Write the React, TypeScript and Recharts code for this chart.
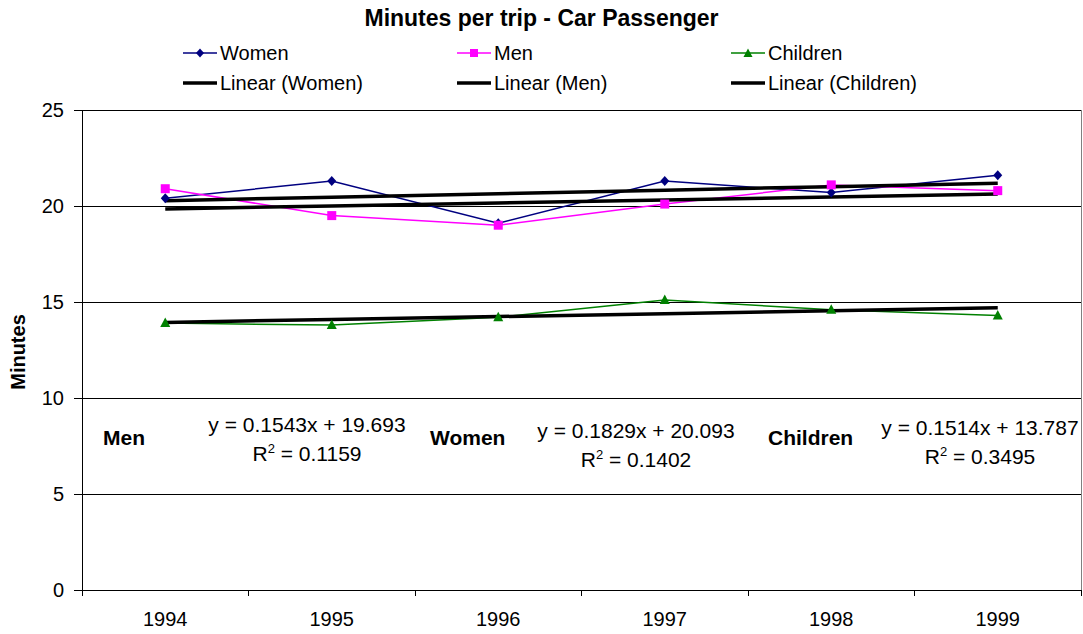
import type { CSSProperties } from 'react'
import { CartesianGrid, Line, LineChart, XAxis, YAxis } from 'recharts'

const YEARS = ['1994', '1995', '1996', '1997', '1998', '1999']
const WOMEN = [20.4, 21.3, 19.1, 21.3, 20.7, 21.6]
const MEN = [20.9, 19.5, 19.0, 20.1, 21.1, 20.8]
const CHILDREN = [13.9, 13.8, 14.2, 15.1, 14.6, 14.3]

// linear trend values at each year (x = 1..6)
const WOMEN_TREND = [20.276, 20.459, 20.642, 20.825, 21.008, 21.191]
const MEN_TREND = [19.847, 20.002, 20.156, 20.31, 20.465, 20.619]
const CHILDREN_TREND = [13.938, 14.09, 14.241, 14.393, 14.544, 14.695]

const Y_TICKS = [0, 5, 10, 15, 20, 25]

const TREND_NAMES = ['Men', 'Women', 'Children']
const TREND_EQUATIONS = ['y = 0.1543x + 19.693', 'y = 0.1829x + 20.093', 'y = 0.1514x + 13.787']
const TREND_R2 = ['0.1159', '0.1402', '0.3495']

const FONT = 'Arial, "Liberation Sans", sans-serif'
const NAVY = '#000080'
const MAGENTA = '#ff00ff'
const GREEN = '#008000'
const BORDER = '#808080'

const rows = YEARS.map((year, i) => ({
  year,
  women: WOMEN[i],
  men: MEN[i],
  children: CHILDREN[i],
  womenTrend: WOMEN_TREND[i],
  menTrend: MEN_TREND[i],
  childrenTrend: CHILDREN_TREND[i],
}))

// annotation placement: bold name, equation block centre
const ANNOTATION_POS = [
  { nameLeft: 103, nameTop: 426, eqX: 307, eqTop: 413 },
  { nameLeft: 430, nameTop: 426, eqX: 636, eqTop: 419 },
  { nameLeft: 768, nameTop: 426, eqX: 980, eqTop: 416 },
]

type DotProps = { cx?: number; cy?: number; index?: number }

function diamondDot({ cx = 0, cy = 0, index }: DotProps) {
  return (
    <polygon
      key={`d-${index}`}
      points={`${cx},${cy - 5} ${cx + 4.5},${cy} ${cx},${cy + 5} ${cx - 4.5},${cy}`}
      fill={NAVY}
    />
  )
}

function squareDot({ cx = 0, cy = 0, index }: DotProps) {
  return <rect key={`s-${index}`} x={cx - 4.5} y={cy - 4.5} width={9} height={9} fill={MAGENTA} />
}

function triangleDot({ cx = 0, cy = 0, index }: DotProps) {
  return (
    <polygon
      key={`t-${index}`}
      points={`${cx},${cy - 5.5} ${cx + 5},${cy + 4} ${cx - 5},${cy + 4}`}
      fill={GREEN}
    />
  )
}

// year labels sit under the bands, tick marks on the band edges
function YearTick(props: any) {
  const { x, y, payload, index, visibleTicksCount } = props
  const half = payload?.offset || 83.25
  const last = index === visibleTicksCount - 1
  return (
    <g shapeRendering="crispEdges">
      <line x1={x - half} x2={x - half} y1={y} y2={y + 6} stroke="#000" />
      {last && <line x1={x + half} x2={x + half} y1={y} y2={y + 6} stroke="#000" />}
      <text x={x} y={y + 36} textAnchor="middle" fontSize={20} fill="#000" fontFamily={FONT}>
        {payload.value}
      </text>
    </g>
  )
}

function LegendMark({ color, marker, thick }: { color: string; marker?: string; thick?: boolean }) {
  return (
    <svg width={34} height={12} style={{ display: 'block' }}>
      <line x1={0} x2={34} y1={6} y2={6} stroke={color} strokeWidth={thick ? 3.5 : 1.5} />
      {marker === 'diamond' && <polygon points="17,1.5 21,6 17,10.5 13,6" fill={color} />}
      {marker === 'square' && <rect x={13} y={2} width={8} height={8} fill={color} />}
      {marker === 'triangle' && <polygon points="17,1.5 21.5,10 12.5,10" fill={color} />}
    </svg>
  )
}

const LEGEND = [
  { label: 'Women', color: NAVY, marker: 'diamond', left: 183, row: 0 },
  { label: 'Men', color: MAGENTA, marker: 'square', left: 457, row: 0 },
  { label: 'Children', color: GREEN, marker: 'triangle', left: 731, row: 0 },
  { label: 'Linear (Women)', color: '#000', left: 183, row: 1, thick: true },
  { label: 'Linear (Men)', color: '#000', left: 457, row: 1, thick: true },
  { label: 'Linear (Children)', color: '#000', left: 731, row: 1, thick: true },
]

const abs = (style: CSSProperties): CSSProperties => ({ position: 'absolute', ...style })

export default function App() {
  return (
    <div
      style={{
        position: 'absolute',
        left: 0,
        top: 0,
        width: 1083,
        height: 634,
        background: '#fff',
        fontFamily: FONT,
        color: '#000',
      }}
    >
      <LineChart
        width={1083}
        height={634}
        data={rows}
        margin={{ top: 110, right: 0, bottom: 0, left: 0 }}
      >
        <CartesianGrid stroke="#000" vertical={false} shapeRendering="crispEdges" />
        <XAxis
          dataKey="year"
          scale="band"
          tick={<YearTick />}
          tickLine={false}
          tickSize={0}
          tickMargin={0}
          height={44}
          axisLine={{ stroke: '#000', shapeRendering: 'crispEdges' }}
          interval={0}
        />
        <XAxis
          xAxisId="top"
          orientation="top"
          dataKey="year"
          scale="band"
          height={0}
          tick={false}
          tickLine={false}
          axisLine={{ stroke: BORDER, shapeRendering: 'crispEdges' }}
        />
        <YAxis
          domain={[0, 25]}
          ticks={Y_TICKS}
          width={82}
          tickSize={8}
          tickMargin={10}
          axisLine={{ stroke: '#000', shapeRendering: 'crispEdges' }}
          tickLine={{ stroke: '#000', shapeRendering: 'crispEdges' }}
          tick={{ fontSize: 20, fill: '#000', fontFamily: FONT }}
        />
        <YAxis
          yAxisId="right"
          orientation="right"
          domain={[0, 25]}
          width={2}
          tick={false}
          tickLine={false}
          axisLine={{ stroke: BORDER, shapeRendering: 'crispEdges' }}
        />
        <Line dataKey="women" stroke={NAVY} strokeWidth={1.5} dot={diamondDot} isAnimationActive={false} />
        <Line dataKey="men" stroke={MAGENTA} strokeWidth={1.5} dot={squareDot} isAnimationActive={false} />
        <Line dataKey="children" stroke={GREEN} strokeWidth={1.5} dot={triangleDot} isAnimationActive={false} />
        <Line dataKey="womenTrend" stroke="#000" strokeWidth={3.5} dot={false} isAnimationActive={false} />
        <Line dataKey="menTrend" stroke="#000" strokeWidth={3.5} dot={false} isAnimationActive={false} />
        <Line dataKey="childrenTrend" stroke="#000" strokeWidth={3.5} dot={false} isAnimationActive={false} />
      </LineChart>

      <div
        style={abs({
          left: 0,
          width: 1083,
          top: 4,
          textAlign: 'center',
          fontSize: 23,
          fontWeight: 'bold',
          lineHeight: '28px',
        })}
      >
        Minutes per trip - Car Passenger
      </div>

      {LEGEND.map((item) => (
        <div
          key={item.label}
          style={abs({
            left: item.left,
            top: item.row === 0 ? 41 : 71,
            display: 'flex',
            alignItems: 'center',
            fontSize: 20,
            lineHeight: '24px',
            whiteSpace: 'nowrap',
          })}
        >
          <LegendMark color={item.color} marker={item.marker} thick={item.thick} />
          <span style={{ marginLeft: 3 }}>{item.label}</span>
        </div>
      ))}

      <div
        style={abs({
          left: 18,
          top: 352,
          transform: 'translate(-50%, -50%) rotate(-90deg)',
          fontSize: 20,
          fontWeight: 'bold',
          whiteSpace: 'nowrap',
        })}
      >
        Minutes
      </div>

      {TREND_NAMES.map((name, i) => {
        const pos = ANNOTATION_POS[i]
        return (
          <div key={name}>
            <div
              style={abs({
                left: pos.nameLeft,
                top: pos.nameTop,
                fontSize: 21,
                fontWeight: 'bold',
                lineHeight: '24px',
              })}
            >
              {name}
            </div>
            <div
              style={abs({
                left: pos.eqX - 120,
                width: 240,
                top: pos.eqTop,
                textAlign: 'center',
                fontSize: 21,
                lineHeight: '29px',
                whiteSpace: 'nowrap',
              })}
            >
              <div style={{ height: 29, lineHeight: '24px' }}>{TREND_EQUATIONS[i]}</div>
              <div style={{ height: 29, lineHeight: '24px' }}>
                R<sup style={{ fontSize: 13, lineHeight: 0 }}>2</sup> = {TREND_R2[i]}
              </div>
            </div>
          </div>
        )
      })}
    </div>
  )
}
